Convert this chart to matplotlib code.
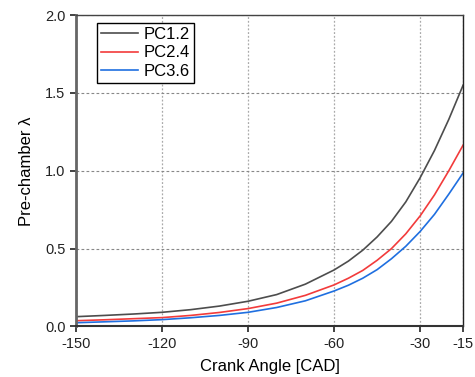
import numpy as np
import matplotlib.pyplot as plt

plt.rcParams['font.family'] = ['Liberation Sans', 'DejaVu Sans']
plt.rcParams['axes.unicode_minus'] = False

# crank angle [CAD]
cad = [-150, -140, -130, -120, -110, -100, -90, -80, -70, -60,
       -55, -50, -45, -40, -35, -30, -25, -20, -15]
pc12 = [0.063, 0.071, 0.080, 0.091, 0.108, 0.131, 0.162, 0.205, 0.272, 0.363,
        0.420, 0.490, 0.575, 0.675, 0.800, 0.955, 1.13, 1.33, 1.55]
pc24 = [0.037, 0.043, 0.050, 0.057, 0.071, 0.090, 0.115, 0.150, 0.200, 0.267,
        0.310, 0.360, 0.425, 0.500, 0.595, 0.710, 0.845, 1.00, 1.165]
pc36 = [0.024, 0.030, 0.036, 0.044, 0.056, 0.071, 0.091, 0.122, 0.165, 0.228,
        0.265, 0.310, 0.365, 0.435, 0.515, 0.610, 0.720, 0.850, 0.986]
labels = ['PC1.2', 'PC2.4', 'PC3.6']
colors = ['#4d4d4d', '#f23b3b', '#1f6fe0']

fig = plt.figure(figsize=(4.75, 3.77), dpi=100)
ax = fig.add_axes([0.16, 0.134, 0.815, 0.826])

for y, lab, c in zip([pc12, pc24, pc36], labels, colors):
    ax.plot(cad, y, color=c, linewidth=1.2, label=lab)

ax.set_xlim(-150, -15)
ax.set_ylim(0, 2.0)
ax.set_xticks([-150, -120, -90, -60, -30, -15])
ax.set_yticks([0.0, 0.5, 1.0, 1.5, 2.0])
ax.set_yticklabels(['0.0', '0.5', '1.0', '1.5', '2.0'])
ax.xaxis.grid(True, color='#aaaaaa', linestyle=(0, (1.5, 1.5)), linewidth=0.9)
ax.yaxis.grid(True, color='#888888', linestyle=(0, (2.5, 2)), linewidth=0.8)

ax.spines['left'].set_linewidth(2.0)
ax.spines['left'].set_color('#666666')
ax.spines['bottom'].set_linewidth(1.5)
ax.spines['bottom'].set_color('#333333')
ax.spines['top'].set_linewidth(1.0)
ax.spines['top'].set_color('#444444')
ax.spines['right'].set_linewidth(1.0)
ax.spines['right'].set_color('#222222')
ax.tick_params(direction='out', length=4, width=1.2, labelsize=10.5,
               top=False, right=False, colors='#222222')

ax.set_xlabel('Crank Angle [CAD]', fontsize=12, labelpad=6)
ax.set_ylabel('Pre-chamber λ', fontsize=12, labelpad=8)

leg = ax.legend(loc='upper left', bbox_to_anchor=(0.055, 0.975), fontsize=12,
                frameon=True, fancybox=False, handlelength=2.2,
                borderpad=0.25, labelspacing=0.2, handletextpad=0.3,
                borderaxespad=0)
leg.get_frame().set_edgecolor('black')
leg.get_frame().set_linewidth(1.0)
leg.get_frame().set_alpha(1)

plt.savefig('out.png', dpi=100)
